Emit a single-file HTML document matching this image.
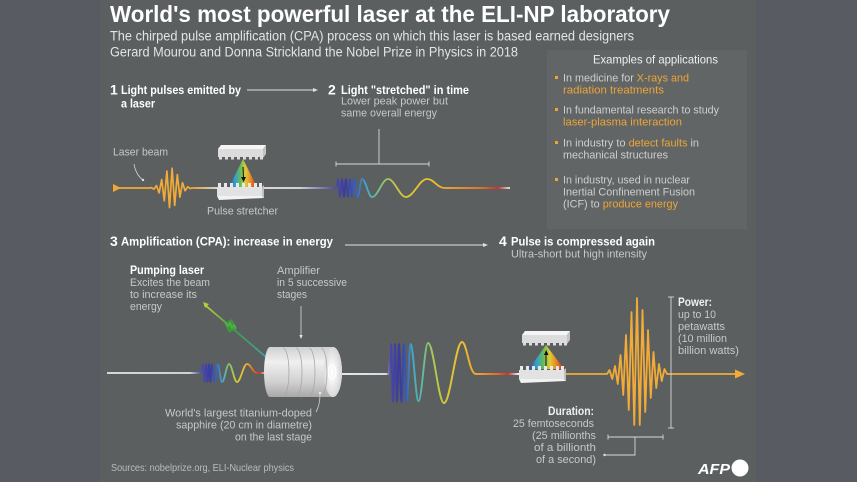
<!DOCTYPE html>
<html><head><meta charset="utf-8"><style>
html,body{margin:0;padding:0;background:#585c62;}
svg{display:block;font-family:"Liberation Sans",sans-serif;}
.t{fill:#fff;font-weight:bold;}
.s{fill:#e4e4e4;font-size:13.5px;}
.h{fill:#fff;font-weight:bold;font-size:11.8px;}
.n{fill:#fff;font-weight:bold;font-size:14px;}
.g{fill:#c8c8c8;font-size:11px;}
.b{fill:#cfcfcf;font-size:11px;}
.o{fill:#eea536;}
</style></head><body>
<svg width="857" height="482" viewBox="0 0 857 482" xmlns="http://www.w3.org/2000/svg">
<defs>
<linearGradient id="gw2" gradientUnits="userSpaceOnUse" x1="264" y1="0" x2="512" y2="0">
<stop offset="0" stop-color="#e8e8e8"/><stop offset="0.145" stop-color="#e0e0e8"/><stop offset="0.282" stop-color="#5050a8"/><stop offset="0.327" stop-color="#3a3a9a"/><stop offset="0.371" stop-color="#3a60c0"/><stop offset="0.411" stop-color="#40a8d0"/><stop offset="0.46" stop-color="#70c090"/><stop offset="0.516" stop-color="#c0c848"/><stop offset="0.589" stop-color="#e0c830"/><stop offset="0.669" stop-color="#f0c030"/><stop offset="0.75" stop-color="#f0a830"/><stop offset="0.871" stop-color="#ec7a28"/><stop offset="0.944" stop-color="#d83020"/><stop offset="0.992" stop-color="#f0f0f0"/>
</linearGradient>
<linearGradient id="gw3" gradientUnits="userSpaceOnUse" x1="107" y1="0" x2="265" y2="0">
<stop offset="0" stop-color="#e8e8e8"/><stop offset="0.525" stop-color="#e0e0e8"/><stop offset="0.595" stop-color="#5050a8"/><stop offset="0.652" stop-color="#3b3b9c"/><stop offset="0.69" stop-color="#3a60c0"/><stop offset="0.728" stop-color="#40a8d0"/><stop offset="0.778" stop-color="#90c460"/><stop offset="0.829" stop-color="#d8cc38"/><stop offset="0.886" stop-color="#f0b030"/><stop offset="0.93" stop-color="#e86020"/><stop offset="0.968" stop-color="#d83020"/><stop offset="1" stop-color="#e0e0e0"/>
</linearGradient>
<linearGradient id="gw4" gradientUnits="userSpaceOnUse" x1="342" y1="0" x2="520" y2="0">
<stop offset="0" stop-color="#e8e8e8"/><stop offset="0.247" stop-color="#d8d8e8"/><stop offset="0.27" stop-color="#4848a8"/><stop offset="0.326" stop-color="#3a3a9a"/><stop offset="0.36" stop-color="#3a58b8"/><stop offset="0.393" stop-color="#40a8d0"/><stop offset="0.449" stop-color="#60b8a0"/><stop offset="0.506" stop-color="#a8c858"/><stop offset="0.584" stop-color="#d8c838"/><stop offset="0.674" stop-color="#f0c030"/><stop offset="0.764" stop-color="#f0a030"/><stop offset="0.876" stop-color="#e86828"/><stop offset="0.933" stop-color="#d83020"/><stop offset="0.989" stop-color="#eeeeee"/>
</linearGradient>
<linearGradient id="gl1" gradientUnits="userSpaceOnUse" x1="192" y1="0" x2="218" y2="0">
<stop offset="0" stop-color="#f0a830"/><stop offset="1" stop-color="#e8e8e8"/>
</linearGradient>
<linearGradient id="rb" x1="0" y1="0" x2="1" y2="0">
<stop offset="0" stop-color="#3040b0"/><stop offset="0.2" stop-color="#30a0d8"/><stop offset="0.4" stop-color="#60c060"/><stop offset="0.6" stop-color="#e8d030"/><stop offset="0.8" stop-color="#f08020"/><stop offset="1" stop-color="#d02020"/>
</linearGradient>
<linearGradient id="cyl" x1="0" y1="0" x2="0" y2="1">
<stop offset="0" stop-color="#cfd0d0"/><stop offset="0.3" stop-color="#f0f0f0"/><stop offset="0.7" stop-color="#d0d0d0"/><stop offset="1" stop-color="#a8a8a8"/>
</linearGradient>
<radialGradient id="glow" cx="0.45" cy="0.5" r="0.5">
<stop offset="0" stop-color="#ffffff"/><stop offset="0.4" stop-color="#f4f4f4"/><stop offset="1" stop-color="#d8d8d8"/>
</radialGradient>
<linearGradient id="pump" gradientUnits="userSpaceOnUse" x1="205" y1="305" x2="265" y2="357">
<stop offset="0" stop-color="#c8d040"/><stop offset="0.45" stop-color="#40a040"/><stop offset="1" stop-color="#40a0a8"/>
</linearGradient>
<g id="gtop">
<polygon points="3,0 48,0 45,4 0,4" fill="#f5f5f5"/>
<rect x="0" y="4" width="45" height="8" fill="#dcdcdc"/>
<polygon points="45,4 48,0 48,9 45,13" fill="#c2c2c2"/>
<rect x="1" y="11" width="3" height="3.5" fill="#dcdcdc"/><rect x="7" y="11" width="3" height="3.5" fill="#dcdcdc"/><rect x="13" y="11" width="3" height="3.5" fill="#dcdcdc"/><rect x="19" y="11" width="3" height="3.5" fill="#dcdcdc"/><rect x="25" y="11" width="3" height="3.5" fill="#dcdcdc"/><rect x="31" y="11" width="3" height="3.5" fill="#dcdcdc"/><rect x="37" y="11" width="3" height="3.5" fill="#dcdcdc"/><rect x="42" y="11" width="3" height="3.5" fill="#dcdcdc"/>
</g>
<g id="gbot">
<rect x="1" y="0" width="3" height="4.5" fill="#e8e8e8"/><rect x="7" y="0" width="3" height="4.5" fill="#e8e8e8"/><rect x="13" y="0" width="3" height="4.5" fill="#e8e8e8"/><rect x="19" y="0" width="3" height="4.5" fill="#e8e8e8"/><rect x="25" y="0" width="3" height="4.5" fill="#e8e8e8"/><rect x="31" y="0" width="3" height="4.5" fill="#e8e8e8"/><rect x="37" y="0" width="3" height="4.5" fill="#e8e8e8"/><rect x="42" y="0" width="3" height="4.5" fill="#e8e8e8"/>
<rect x="0" y="4" width="45" height="9" fill="#e2e2e2"/>
<polygon points="0,13 45,13 47,15 2,17" fill="#f2f2f2"/>
<polygon points="45,4 47,2 47,15 45,13" fill="#c0c0c0"/>
</g>
</defs>

<rect width="857" height="482" fill="#585c62"/>
<rect x="100" y="0" width="656" height="482" fill="#5b5f5f"/>
<rect x="547" y="50" width="200" height="179" fill="#616565"/>

<!-- Title -->
<text class="t" x="110" y="22" font-size="23.5" textLength="560" lengthAdjust="spacingAndGlyphs">World's most powerful laser at the ELI-NP laboratory</text>
<text class="s" x="110" y="40.5" textLength="524" lengthAdjust="spacingAndGlyphs">The chirped pulse amplification (CPA) process on which this laser is based earned designers</text>
<text class="s" x="110" y="56.5" textLength="408" lengthAdjust="spacingAndGlyphs">Gerard Mourou and Donna Strickland the Nobel Prize in Physics in 2018</text>

<!-- Step 1 & 2 headings -->
<text class="n" x="110" y="94.5">1</text>
<text class="h" x="121" y="94" textLength="120" lengthAdjust="spacingAndGlyphs">Light pulses emitted by</text>
<text class="h" x="121" y="107.5" textLength="34" lengthAdjust="spacingAndGlyphs">a laser</text>
<line x1="247" y1="90" x2="314" y2="90" stroke="#e0e0e0" stroke-width="0.9"/>
<polygon points="313,88 318,90 313,92" fill="#e0e0e0"/>
<text class="n" x="328" y="94.5">2</text>
<text class="h" x="341" y="94" textLength="128" lengthAdjust="spacingAndGlyphs">Light "stretched" in time</text>
<text class="g" x="341" y="104.5" textLength="107" lengthAdjust="spacingAndGlyphs">Lower peak power but</text>
<text class="g" x="341" y="116.5" textLength="96" lengthAdjust="spacingAndGlyphs">same overall energy</text>

<!-- Section 1 drawing -->
<text class="g" x="113" y="155.5" textLength="55" lengthAdjust="spacingAndGlyphs">Laser beam</text>
<path d="M134,164 Q136,175 143,180" fill="none" stroke="#d0d0d0" stroke-width="0.8"/>
<circle cx="143" cy="180" r="1.2" fill="#e0e0e0"/>
<polygon points="113,184 121,188 113,192" fill="#f0a830"/>
<polyline points="118,188 150,188 151.3,187.6 153.9,189.1 156.5,185.6 159.1,192.9 161.7,179.6 164.3,200.8 166.9,171.1 169.5,207.6 172.1,168.2 174.7,205.4 177.3,174.6 179.9,197.1 182.5,182.7 185.1,190.7 187.7,186.8 190.3,188.5 192,188" fill="none" stroke="#f2ab36" stroke-width="1.7" stroke-linejoin="round"/>
<line x1="192" y1="188" x2="219" y2="188" stroke="url(#gl1)" stroke-width="1.7"/>
<path d="M264,188 L336,188 L338,179 C338.7,179 339.3,197 340,197 C340.7,197 341.3,179 342,179 C342.7,179 343.3,197 344,197 C344.7,197 345.3,179 346,179 C346.7,179 347.3,197 348,197 C348.7,197 349.3,179 350,179 C350.7,179 351.3,197 352,197 C352.7,197 353.3,179 354,179 C355.3,179 356.2,197 357.5,197 C359.1,197 360.4,179 362,179 C365.6,179 368.4,197 372,197 C377.8,197 382.2,179 388,179 C394.5,179 399.5,197 406,197 C413.6,197 419.4,179 427,179 C434,179 437,188 445,188 L510,188" fill="none" stroke="url(#gw2)" stroke-width="1.8" stroke-linejoin="round"/>
<line x1="219" y1="188" x2="264" y2="188" stroke="#e8e8e8" stroke-width="1.7"/>
<use href="#gtop" x="218" y="145"/>
<polygon points="243,159 229,187 257,187" fill="url(#rb)" opacity="0.95"/>
<line x1="243" y1="167" x2="243.5" y2="178" stroke="#111" stroke-width="1"/>
<polygon points="241,177 246,177 243.6,182" fill="#111"/>
<use href="#gbot" x="217" y="183"/>
<text class="g" x="207" y="214.5" textLength="71" lengthAdjust="spacingAndGlyphs">Pulse stretcher</text>

<!-- stretch bracket -->
<line x1="336" y1="164" x2="429" y2="164" stroke="#d8d8d8" stroke-width="0.9"/>
<line x1="336" y1="161.5" x2="336" y2="166.5" stroke="#d8d8d8" stroke-width="0.9"/>
<line x1="429" y1="161.5" x2="429" y2="166.5" stroke="#d8d8d8" stroke-width="0.9"/>
<line x1="379" y1="129" x2="379" y2="164" stroke="#d8d8d8" stroke-width="0.9"/>

<!-- Applications box -->
<text x="593" y="63.5" font-size="12" fill="#f0f0f0" textLength="125" lengthAdjust="spacingAndGlyphs">Examples of applications</text>
<rect x="555" y="76" width="3" height="3" fill="#eea536"/>
<text class="b" x="563" y="81.5" textLength="126" lengthAdjust="spacingAndGlyphs">In medicine for  <tspan class="o">X-rays and</tspan></text>
<text class="b o" x="563" y="93.5" textLength="101" lengthAdjust="spacingAndGlyphs">radiation treatments</text>
<rect x="555" y="108" width="3" height="3" fill="#eea536"/>
<text class="b" x="563" y="113.5" textLength="156" lengthAdjust="spacingAndGlyphs">In fundamental research to study</text>
<text class="b o" x="563" y="125.5" textLength="119" lengthAdjust="spacingAndGlyphs">laser-plasma interaction</text>
<rect x="555" y="141" width="3" height="3" fill="#eea536"/>
<text class="b" x="563" y="146.5" textLength="136" lengthAdjust="spacingAndGlyphs">In industry to <tspan class="o">detect faults</tspan> in</text>
<text class="b" x="563" y="158.5" textLength="105" lengthAdjust="spacingAndGlyphs">mechanical structures</text>
<rect x="555" y="178" width="3" height="3" fill="#eea536"/>
<text class="b" x="563" y="183.5" textLength="127" lengthAdjust="spacingAndGlyphs">In industry, used in nuclear</text>
<text class="b" x="563" y="195.5" textLength="132" lengthAdjust="spacingAndGlyphs">Inertial Confinement Fusion</text>
<text class="b" x="563" y="207.5" textLength="115" lengthAdjust="spacingAndGlyphs">(ICF)  to <tspan class="o">produce energy</tspan></text>

<!-- Step 3 & 4 headings -->
<text class="n" x="110" y="246">3</text>
<text class="h" x="121" y="245.5" textLength="212" lengthAdjust="spacingAndGlyphs">Amplification (CPA): increase in energy</text>
<line x1="345" y1="245" x2="484" y2="245" stroke="#e0e0e0" stroke-width="0.9"/>
<polygon points="483,243 488,245 483,247" fill="#e0e0e0"/>
<text class="n" x="499" y="246">4</text>
<text class="h" x="511" y="245.5" textLength="144" lengthAdjust="spacingAndGlyphs">Pulse is compressed again</text>
<text class="g" x="511" y="257.5" textLength="136" lengthAdjust="spacingAndGlyphs">Ultra-short but high intensity</text>

<!-- Pumping laser text -->
<text class="h" x="130" y="274" textLength="74" lengthAdjust="spacingAndGlyphs">Pumping laser</text>
<text class="g" x="130" y="286" textLength="80" lengthAdjust="spacingAndGlyphs">Excites the beam</text>
<text class="g" x="130" y="298" textLength="67" lengthAdjust="spacingAndGlyphs">to increase its</text>
<text class="g" x="130" y="310" textLength="32" lengthAdjust="spacingAndGlyphs">energy</text>
<text class="g" x="277" y="274" textLength="43" lengthAdjust="spacingAndGlyphs">Amplifier</text>
<text class="g" x="277" y="286" textLength="70" lengthAdjust="spacingAndGlyphs">in 5 successive</text>
<text class="g" x="277" y="298" textLength="30" lengthAdjust="spacingAndGlyphs">stages</text>
<line x1="301" y1="306" x2="301" y2="336" stroke="#d8d8d8" stroke-width="0.8"/>
<polygon points="299.3,335 302.7,335 301,339" fill="#e0e0e0"/>

<!-- Pump beam -->
<polygon points="203,302 209,304 205,308" fill="#b8c840"/>
<line x1="205" y1="305" x2="266" y2="357" stroke="url(#pump)" stroke-width="1.8"/>
<polygon points="224,323 232,319 237,328 229,333" fill="#3c9c3c" opacity="0.9"/>
<path d="M225,322 l3,4 l2,-3 l2,5 l2,-3 l2,4" fill="none" stroke="#58b048" stroke-width="1.4"/>

<!-- Section 3 input wave -->
<path d="M107,373 L201,373 L203,364 C203.5,364 204,382 204.5,382 C205,382 205.5,364 206,364 C206.5,364 207,382 207.5,382 C208,382 208.5,364 209,364 C209.5,364 210,382 210.5,382 C211,382 211.5,364 212,364 C212.9,364 213.6,382 214.5,382 C215.6,382 216.4,364 217.5,364 C219.1,364 220.4,382 222,382 C224.5,382 226.5,364 229,364 C231.9,364 234.1,382 237,382 C240.6,382 243.4,364 247,364 C251,364 253,373 257,373 L266,373" fill="none" stroke="url(#gw3)" stroke-width="1.8" stroke-linejoin="round"/>

<!-- Section 3 output wave -->
<path d="M342,374 L389,374 L391,344 C391.7,344 392.3,402 393,402 C393.7,402 394.3,344 395,344 C395.7,344 396.3,402 397,402 C397.7,402 398.3,344 399,344 C399.9,344 400.6,402 401.5,402 C402.4,402 403.1,344 404,344 C404.9,344 405.6,402 406.5,402 C407.9,402 409.1,344 410.5,344 C413.4,344 415.6,401 418.5,401 C421.9,401 424.6,343 428,343 C433.8,343 438.2,403 444,403 C450.5,403 455.5,342 462,342 C467,342 469,374 476,374 L520,374" fill="none" stroke="url(#gw4)" stroke-width="1.9" stroke-linejoin="round"/>

<!-- Cylinder amplifier -->
<path d="M270,347 H333 A9,25 0 0 1 333,397 H270 A6,25 0 0 1 270,347 Z" fill="url(#cyl)"/>
<ellipse cx="333" cy="372" rx="9" ry="25" fill="url(#glow)"/>
<ellipse cx="332" cy="372" rx="4" ry="7" fill="none" stroke="#ffffff" stroke-width="1.2"/>
<path d="M283,348 A6,24 0 0 1 283,396 M296,348 A6,24 0 0 1 296,396 M309,348 A6,24 0 0 1 309,396 M321,348 A6,24 0 0 1 321,396" fill="none" stroke="#a8a8a8" stroke-width="0.8"/>
<circle cx="320" cy="393" r="1.3" fill="#e8e8e8"/>
<path d="M320,394 Q320,405 316,412" fill="none" stroke="#d0d0d0" stroke-width="0.8"/>

<text class="g" x="312" y="416.5" text-anchor="end" textLength="147" lengthAdjust="spacingAndGlyphs">World's largest titanium-doped</text>
<text class="g" x="312" y="428.5" text-anchor="end" textLength="136" lengthAdjust="spacingAndGlyphs">sapphire (20 cm in diametre)</text>
<text class="g" x="312" y="440.5" text-anchor="end" textLength="77" lengthAdjust="spacingAndGlyphs">on the last stage</text>

<!-- Compressor -->
<use href="#gtop" x="522" y="331"/>
<polygon points="546,345 529,369 564,369" fill="url(#rb)" opacity="0.95"/>
<line x1="546" y1="366" x2="546" y2="354" stroke="#111" stroke-width="1"/>
<polygon points="544,355 548.5,355 546.2,350" fill="#111"/>
<use href="#gbot" x="519" y="366"/>

<!-- Compressed pulse -->
<polyline points="566,374 607,374 609.5,370 612.25,379 615,366 617.75,384 620.5,355 623.25,395 626,335 628.75,410 631.5,312 634.25,425 637,298 639.75,425 642.5,310 645.25,412 648,330 650.75,398 653.5,352 656.25,388 659,364 661.75,381 664.5,369 667,374 738,374" fill="none" stroke="#f2ab36" stroke-width="1.8" stroke-linejoin="round"/>
<polygon points="735,369.5 745,374 735,378.5" fill="#f2ab36"/>

<!-- Power bracket -->
<line x1="671" y1="297" x2="671" y2="428" stroke="#d8d8d8" stroke-width="0.9"/>
<line x1="668" y1="297" x2="674" y2="297" stroke="#d8d8d8" stroke-width="0.9"/>
<line x1="668" y1="428" x2="674" y2="428" stroke="#d8d8d8" stroke-width="0.9"/>
<text x="678" y="306" font-size="11.5" font-weight="bold" fill="#f0f0f0" textLength="34" lengthAdjust="spacingAndGlyphs">Power:</text>
<text class="g" x="678" y="318" textLength="38" lengthAdjust="spacingAndGlyphs">up to 10</text>
<text class="g" x="678" y="330" textLength="47" lengthAdjust="spacingAndGlyphs">petawatts</text>
<text class="g" x="678" y="342" textLength="49" lengthAdjust="spacingAndGlyphs">(10 million</text>
<text class="g" x="678" y="354" textLength="61" lengthAdjust="spacingAndGlyphs">billion watts)</text>

<!-- Duration bracket -->
<line x1="608" y1="437" x2="663" y2="437" stroke="#d8d8d8" stroke-width="0.9"/>
<line x1="608" y1="434.5" x2="608" y2="439.5" stroke="#d8d8d8" stroke-width="0.9"/>
<line x1="663" y1="434.5" x2="663" y2="439.5" stroke="#d8d8d8" stroke-width="0.9"/>
<polyline points="635,437 635,455 605,455" fill="none" stroke="#d8d8d8" stroke-width="0.9"/>
<circle cx="604.5" cy="455" r="1.2" fill="#e0e0e0"/>
<text x="594" y="415" text-anchor="end" font-size="11.5" font-weight="bold" fill="#f0f0f0" textLength="46" lengthAdjust="spacingAndGlyphs">Duration:</text>
<text class="g" x="594" y="427" text-anchor="end" textLength="81" lengthAdjust="spacingAndGlyphs">25 femtoseconds</text>
<text class="g" x="596" y="439" text-anchor="end" textLength="64" lengthAdjust="spacingAndGlyphs">(25 millionths</text>
<text class="g" x="596" y="451" text-anchor="end" textLength="62" lengthAdjust="spacingAndGlyphs">of a  billionth</text>
<text class="g" x="596" y="463" text-anchor="end" textLength="60" lengthAdjust="spacingAndGlyphs">of  a second)</text>

<!-- Sources & logo -->
<text x="111" y="471" font-size="10.5" fill="#bcbcbc" textLength="183" lengthAdjust="spacingAndGlyphs">Sources: nobelprize.org, ELI-Nuclear physics</text>
<text x="698" y="474" font-size="15" font-weight="bold" font-style="italic" fill="#ffffff" textLength="32" lengthAdjust="spacingAndGlyphs">AFP</text>
<circle cx="740" cy="468" r="8.5" fill="#ffffff"/>
</svg>
</body></html>
